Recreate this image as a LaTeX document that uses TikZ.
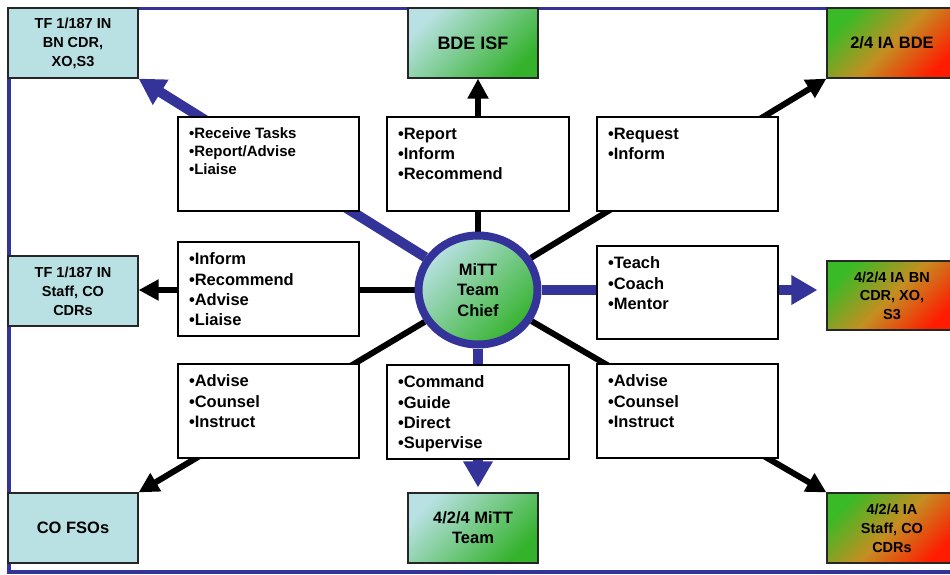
\documentclass[tikz,border=0pt]{standalone}
\usepackage{fontspec}
\setmainfont{Liberation Sans}
\usetikzlibrary{arrows.meta,shapes.geometric,backgrounds}

\begin{document}
\begin{tikzpicture}[x=1pt,y=-1pt]
  % Colors
  \definecolor{linkblue}{RGB}{51,51,153}
  \definecolor{unitcyan}{RGB}{185,225,228}
  \definecolor{unitgreen}{RGB}{52,178,44}
  \definecolor{iagreen}{RGB}{58,186,38}
  \definecolor{iamid}{RGB}{196,142,34}
  \definecolor{iared}{RGB}{255,28,0}

  % Styles
  \tikzstyle{unit}=[draw=black!85,line width=1.2pt,minimum width=130pt,minimum height=70pt,inner sep=0pt,align=center,font=\fontsize{14.5}{19}\selectfont\bfseries]
  \tikzstyle{plain unit}=[unit,fill=unitcyan]
  \tikzstyle{isf unit}=[unit,top color=unitcyan,bottom color=unitgreen,shading angle=45]
  \tikzstyle{ia unit}=[unit,top color=iagreen,bottom color=iared,middle color=iamid,shading angle=45]
  \tikzstyle{big text}=[font=\fontsize{16.5}{20}\selectfont\bfseries]
  \tikzstyle{duty box}=[draw,line width=2.5pt,fill=white,inner xsep=11pt,inner ysep=11pt,font=\fontsize{16.5}{20.3}\selectfont\bfseries]
  \tikzstyle{chief}=[ellipse,draw=linkblue,line width=8pt,minimum width=119pt,minimum height=109pt,inner sep=0pt,top color=unitcyan,bottom color=unitgreen,shading angle=45,align=center,font=\fontsize{16.5}{20.5}\selectfont\bfseries]
  \tikzstyle{black link}=[line width=6pt,-{Triangle[length=20pt,width=20pt]}]
  \tikzstyle{blue link}=[color=linkblue,line width=10pt,-{Triangle[length=26pt,width=28pt]}]

  \useasboundingbox (0,0) rectangle (950,575);

  % outer units
  \node[plain unit] (tfbn) at (73,43) {TF 1/187 IN\\BN CDR,\\XO,S3};
  \node[isf unit,font=\fontsize{18}{20}\selectfont\bfseries] (bde) at (473,43) {BDE ISF};
  \node[ia unit,big text] (iabde) at (892,43) {2/4 IA BDE};
  \node[plain unit] (tfstaff) at (73,291) {TF 1/187 IN\\Staff, CO\\CDRs};
  \node[ia unit,minimum height=69pt,font=\fontsize{14.5}{18.5}\selectfont\bfseries] (iabn) at (892,295.5) {4/2/4 IA BN\\CDR, XO,\\S3};
  \node[plain unit,big text] (cofso) at (73,528) {CO FSOs};
  \node[isf unit,big text] (mitt) at (473,528) {4/2/4 MiTT\\Team};
  \node[ia unit] (iastaff) at (892,528) {4/2/4 IA\\Staff, CO\\CDRs};

  % duties
  \node[duty box,font=\fontsize{15}{18}\selectfont\bfseries] (recv) at (268.5,164) {\parbox[t][72pt][t]{159pt}{\textbullet Receive Tasks\\\textbullet Report/Advise\\\textbullet Liaise}};
  \node[duty box] (rprt) at (478,164) {\parbox[t][72pt][t]{160pt}{\textbullet Report\\\textbullet Inform\\\textbullet Recommend}};
  \node[duty box] (rqst) at (687.5,164) {\parbox[t][72pt][t]{159pt}{\textbullet Request\\\textbullet Inform}};
  \node[duty box] (infm) at (268.5,289) {\parbox[t][72pt][t]{159pt}{\textbullet Inform\\\textbullet Recommend\\\textbullet Advise\\\textbullet Liaise}};
  \node[duty box] (tech) at (687.5,292.5) {\parbox[t][71pt][t]{159pt}{\textbullet Teach\\\textbullet Coach\\\textbullet Mentor}};
  \node[duty box] (advl) at (268.5,411) {\parbox[t][72pt][t]{159pt}{\textbullet Advise\\\textbullet Counsel\\\textbullet Instruct}};
  \node[duty box] (cmnd) at (478,412) {\parbox[t][72pt][t]{160pt}{\textbullet Command\\\textbullet Guide\\\textbullet Direct\\\textbullet Supervise}};
  \node[duty box] (advr) at (687.5,411) {\parbox[t][72pt][t]{159pt}{\textbullet Advise\\\textbullet Counsel\\\textbullet Instruct}};

  \node[chief] (chief) at (478,290) {MiTT\\Team\\Chief};

  \begin{scope}[on background layer]
    \draw[linkblue,line width=3.5pt] (950,8.5) -- (9,8.5) -- (9,572) -- (950,572);

    \draw[blue link] (chief) -- (tfbn.south east);
    \draw[black link] (chief) -- (chief |- bde.south);
    \draw[black link] (chief) -- (iabde.south west);
    \draw[black link] (chief) -- (chief -| tfstaff.east);
    \draw[blue link,shorten >=9pt] (chief) -- (chief -| iabn.west);
    \draw[black link] (chief) -- (cofso.north east);
    \draw[blue link,shorten >=5pt] (chief) -- (chief |- mitt.north);
    \draw[black link] (chief) -- (iastaff.north west);
  \end{scope}
\end{tikzpicture}
\end{document}
